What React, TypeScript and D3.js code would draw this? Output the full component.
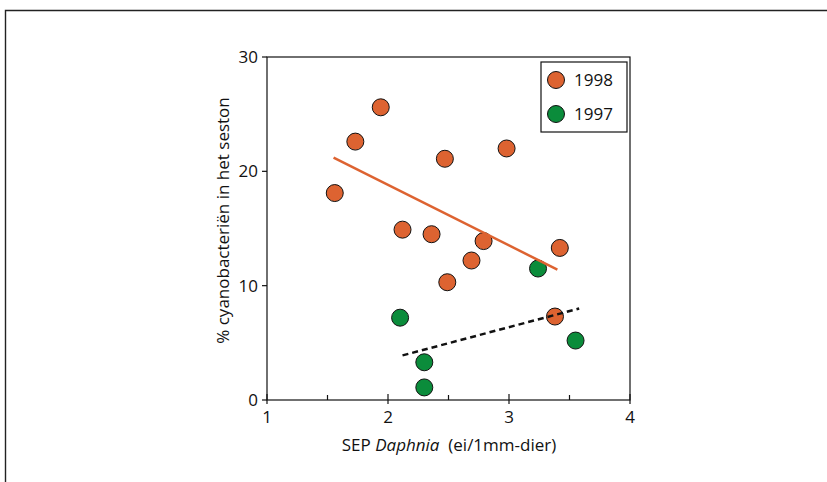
import React from "react";
import * as d3 from "d3";

const x1998 = [1.56, 1.73, 1.94, 2.12, 2.36, 2.47, 2.49, 2.69, 2.79, 2.98, 3.42, 3.38];
const y1998 = [18.1, 22.6, 25.6, 14.9, 14.5, 21.1, 10.3, 12.2, 13.9, 22.0, 13.3, 7.3];
const x1997 = [2.10, 2.30, 2.30, 3.24, 3.55];
const y1997 = [7.2, 3.3, 1.1, 11.5, 5.2];
const fit1998X = [1.55, 3.40];
const fit1998Y = [21.2, 11.4];
const fit1997X = [2.12, 3.58];
const fit1997Y = [3.9, 8.0];
const xTicks = [1, 2, 3, 4];
const xMinor = [1.5, 2.5, 3.5];
const yTicks = [0, 10, 20, 30];
const legendLabels = ["1998", "1997"];

const ORANGE = "#DD6331";
const GREEN = "#0B8C3B";
const FONT = "'Open Sans', 'Noto Sans', sans-serif";

export default function App() {
  const W = 827, H = 482;
  const x = d3.scaleLinear().domain([1, 4]).range([267, 630]);
  const y = d3.scaleLinear().domain([0, 30]).range([400, 57]);
  const line = d3.line<[number, number]>().x(d => x(d[0])).y(d => y(d[1]));
  const pts98 = x1998.map((v, i) => [v, y1998[i]] as [number, number]);
  const pts97 = x1997.map((v, i) => [v, y1997[i]] as [number, number]);
  const l98 = fit1998X.map((v, i) => [v, fit1998Y[i]] as [number, number]);
  const l97 = fit1997X.map((v, i) => [v, fit1997Y[i]] as [number, number]);
  const r = 8.5;
  const colors = [ORANGE, GREEN];
  return (
    <div style={{ position: "absolute", left: 0, top: 0 }}>
      <svg width={W} height={H} style={{ display: "block", background: "#fff" }} fontFamily={FONT}>
        {/* outer frame */}
        <path d={`M5.5,${H} V10.5 H${W}`} fill="none" stroke="#222" strokeWidth={1.4} />
        {/* plot box */}
        <rect x={x(1)} y={y(30)} width={x(4) - x(1)} height={y(0) - y(30)} fill="none" stroke="#111" strokeWidth={1.2} />
        {/* x ticks */}
        {xTicks.map(t => (
          <g key={"xt" + t}>
            <line x1={x(t)} x2={x(t)} y1={y(0) - 6} y2={y(0) + 4} stroke="#111" strokeWidth={1.2} />
            <text x={x(t)} y={y(0) + 23} textAnchor="middle" fontSize={17} fill="#111">{t}</text>
          </g>
        ))}
        {xMinor.map(t => (
          <line key={"xm" + t} x1={x(t)} x2={x(t)} y1={y(0) - 5} y2={y(0)} stroke="#111" strokeWidth={1.2} />
        ))}
        {/* y ticks */}
        {yTicks.map(t => (
          <g key={"yt" + t}>
            <line x1={x(1) - 5} x2={x(1)} y1={y(t)} y2={y(t)} stroke="#111" strokeWidth={1.2} />
            <text x={x(1) - 9} y={y(t) + 6} textAnchor="end" fontSize={17} fill="#111">{t}</text>
          </g>
        ))}
        {/* axis titles */}
        <text x={449} y={451} textAnchor="middle" fontSize={17} fill="#111">
          SEP <tspan fontStyle="italic">Daphnia</tspan>{"\u00A0 (ei/1mm-dier)"}
        </text>
        <text transform={`translate(229,${(y(0) + y(30)) / 2 - 8}) rotate(-90)`} textAnchor="middle" fontSize={17} fill="#111">
          % cyanobacteriën in het seston
        </text>
        {/* points */}
        {pts98.map((p, i) => (
          <circle key={"o" + i} cx={x(p[0])} cy={y(p[1])} r={r} fill={ORANGE} stroke="#111" strokeWidth={1} />
        ))}
        {pts97.map((p, i) => (
          <circle key={"g" + i} cx={x(p[0])} cy={y(p[1])} r={r} fill={GREEN} stroke="#111" strokeWidth={1} />
        ))}
        {/* fit lines */}
        <path d={line(l98) || ""} fill="none" stroke={ORANGE} strokeWidth={2.5} />
        <path d={line(l97) || ""} fill="none" stroke="#111" strokeWidth={2.5} strokeDasharray="6,4" />
        {/* legend */}
        <rect x={541} y={62} width={86} height={70} fill="#fff" stroke="#111" strokeWidth={1.2} />
        {legendLabels.map((lab, i) => (
          <g key={lab}>
            <circle cx={556} cy={80 + i * 34} r={r} fill={colors[i]} stroke="#111" strokeWidth={1} />
            <text x={574} y={86 + i * 34} fontSize={17} fill="#111">{lab}</text>
          </g>
        ))}
      </svg>
    </div>
  );
}
